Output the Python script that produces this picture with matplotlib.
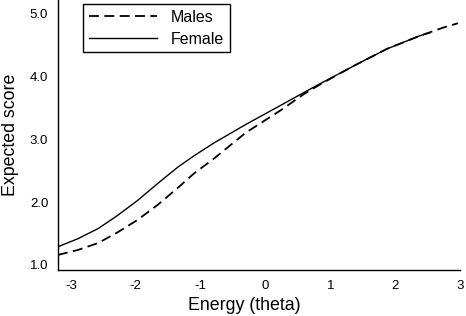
import matplotlib
matplotlib.use("Agg")
import matplotlib.pyplot as plt

plt.rcParams['font.family'] = ['Liberation Sans', 'DejaVu Sans']

female_theta = [-3.2, -2.89, -2.58, -2.28, -1.97, -1.66, -1.35, -1.10, -0.80,
                -0.30, 0.23, 0.74, 1.36, 1.87, 2.38, 2.54]
female_score = [1.29, 1.42, 1.58, 1.79, 2.03, 2.30, 2.56, 2.74, 2.94,
                3.24, 3.54, 3.83, 4.17, 4.44, 4.65, 4.70]

male_theta = [-3.2, -2.89, -2.58, -2.28, -1.97, -1.66, -1.35, -1.10, -0.80,
              -0.30, 0.23, 0.59, 0.85, 1.36, 1.87, 2.38, 2.74, 2.97]
male_score = [1.16, 1.24, 1.35, 1.52, 1.72, 1.96, 2.23, 2.46, 2.69,
              3.11, 3.46, 3.72, 3.88, 4.17, 4.44, 4.65, 4.78, 4.85]

x_ticks = [-3, -2, -1, 0, 1, 2, 3]
x_labels = ['-3', '-2', '-1', '0', '1', '2', '3']
y_ticks = [1.0, 2.0, 3.0, 4.0, 5.0]
y_labels = ['1.0', '2.0', '3.0', '4.0', '5.0']

fig = plt.figure(figsize=(4.66, 3.16), dpi=100)
ax = fig.add_axes([58/466, 1 - 270/316, (460 - 58)/466, 270/316])

ax.plot(male_theta, male_score, color='black', lw=1.3, dashes=(5.5, 3.0), label='Males')
ax.plot(female_theta, female_score, color='black', lw=1.0, label='Female')

ax.set_xlim(-3.2, 3.0)
ax.set_ylim(0.92, 5.22)
ax.set_xticks(x_ticks)
ax.set_xticklabels(x_labels)
ax.set_yticks(y_ticks)
ax.set_yticklabels(y_labels)
ax.tick_params(length=0, labelsize=9.5, pad=7)

for s in ['top', 'right']:
    ax.spines[s].set_visible(False)
for s in ['left', 'bottom']:
    ax.spines[s].set_linewidth(1.0)

ax.set_xlabel('Energy (theta)', fontsize=12.8, labelpad=5)
ax.xaxis.set_label_coords((244.5 - 58) / 402, -0.10)
ax.set_ylabel('Expected score', fontsize=12.8, labelpad=8)

leg = ax.legend(loc='upper left', bbox_to_anchor=(25/402, 1 - 4/270), fontsize=11.5,
                frameon=True, fancybox=False, edgecolor='black', framealpha=1,
                handlelength=4.3, borderpad=0.35, labelspacing=0.45, handletextpad=0.85,
                borderaxespad=0)
leg.get_frame().set_linewidth(1.0)

fig.savefig('out.png', dpi=100)
